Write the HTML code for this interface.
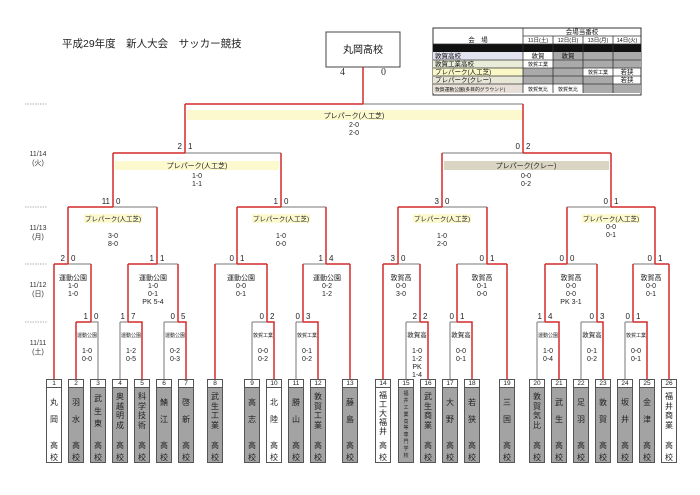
<!DOCTYPE html>
<html><head><meta charset="utf-8"><style>
body{margin:0;background:#fff;}
#w{position:relative;width:700px;height:495px;overflow:hidden;font-family:"Liberation Sans","Noto Sans CJK JP",sans-serif;}
svg{position:absolute;left:0;top:0;}
.t{position:absolute;top:379px;width:14px;height:82px;border:1px solid #555;background:#a3a3a3;font-size:8px;color:#222;}
.t.w{background:#fff;}
.t .n{height:7px;border-bottom:1px solid #555;background:#fff;font-size:6.5px;line-height:7px;text-align:center;}
.t .nm{position:absolute;top:11px;left:0;width:14px;height:40px;display:flex;flex-direction:column;justify-content:space-evenly;align-items:center;line-height:9px;}
.t .k1{position:absolute;left:0;width:14px;text-align:center;top:60px;}
.t .k2{position:absolute;left:0;width:14px;text-align:center;top:72px;}
</style></head><body><div id="w">
<svg width="700" height="495" font-family="Liberation Sans, Noto Sans CJK JP, sans-serif">
<text x="62" y="47" font-size="10.5" fill="#222">平成29年度　新人大会　サッカー競技</text>
<rect x="326" y="32" width="74" height="35" fill="#fff" stroke="#444"/>
<text x="363" y="53" font-size="10" text-anchor="middle" fill="#111">丸岡高校</text>
<text x="340" y="75" font-size="10" font-family="Liberation Serif, serif" fill="#333">4</text>
<text x="381" y="75" font-size="10" font-family="Liberation Serif, serif" fill="#333">0</text>
<!-- legend -->
<g font-size="6.5" fill="#111">
<rect x="433" y="28" width="208" height="67" fill="#fff" stroke="#333"/>
<rect x="433" y="44" width="208" height="8" fill="#111"/>
<rect x="433" y="52" width="90" height="8" fill="#e2e2f0"/>
<rect x="433" y="60" width="90" height="8" fill="#e8ecd8"/>
<rect x="433" y="68" width="90" height="8" fill="#fbf8c8"/>
<rect x="433" y="76" width="90" height="8" fill="#e8e6d6"/>
<rect x="433" y="84" width="90" height="9" fill="#e8e0d8"/>
<rect x="553" y="52" width="88" height="8" fill="#aaa"/>
<rect x="553" y="60" width="88" height="8" fill="#aaa"/>
<rect x="523" y="68" width="60" height="8" fill="#aaa"/>
<rect x="523" y="76" width="90" height="8" fill="#aaa"/>
<rect x="583" y="84" width="58" height="9" fill="#aaa"/>
<g stroke="#333" stroke-width="0.8">
<line x1="523" y1="28" x2="523" y2="93"/><line x1="523" y1="36" x2="641" y2="36"/>
<line x1="433" y1="44" x2="641" y2="44"/>
<line x1="553" y1="36" x2="553" y2="93"/><line x1="583" y1="36" x2="583" y2="93"/><line x1="613" y1="36" x2="613" y2="93"/>
<line x1="433" y1="60" x2="641" y2="60"/><line x1="433" y1="68" x2="641" y2="68"/><line x1="433" y1="76" x2="641" y2="76"/><line x1="433" y1="84" x2="641" y2="84"/>
</g>
<text x="582" y="34" text-anchor="middle">会場当番校</text>
<text x="478" y="42" text-anchor="middle">会　場</text>
<text x="538" y="42" text-anchor="middle" font-size="5.5">11日(土)</text>
<text x="568" y="42" text-anchor="middle" font-size="5.5">12日(日)</text>
<text x="598" y="42" text-anchor="middle" font-size="5.5">13日(月)</text>
<text x="627" y="42" text-anchor="middle" font-size="5.5">14日(火)</text>
<text x="435" y="58">敦賀高校</text><text x="538" y="58" text-anchor="middle">敦賀</text><text x="568" y="58" text-anchor="middle">敦賀</text>
<text x="435" y="66">敦賀工業高校</text><text x="538" y="66" text-anchor="middle" font-size="5">敦賀工業</text>
<text x="435" y="74">プレパーク(人工芝)</text><text x="598" y="74" text-anchor="middle" font-size="5">敦賀工業</text><text x="627" y="74" text-anchor="middle">若狭</text>
<text x="435" y="82">プレパーク(クレー)</text><text x="627" y="82" text-anchor="middle">若狭</text>
<text x="435" y="91" font-size="4.8">敦賀運動公園(多目的グラウンド)</text><text x="538" y="91" text-anchor="middle" font-size="5">敦賀気比</text><text x="568" y="91" text-anchor="middle" font-size="5">敦賀気比</text>
</g>
<!-- dates -->
<g stroke="#999" stroke-dasharray="1.5,1" stroke-width="0.8">
<line x1="25" y1="104" x2="47" y2="104"/><line x1="25" y1="207" x2="47" y2="207"/><line x1="25" y1="264" x2="47" y2="264"/><line x1="25" y1="322" x2="47" y2="322"/>
</g>
<g font-size="7" fill="#333" text-anchor="middle">
<text x="38" y="156">11/14</text><text x="38" y="165">(火)</text>
<text x="38" y="230">11/13</text><text x="38" y="239">(月)</text>
<text x="38" y="287">11/12</text><text x="38" y="296">(日)</text>
<text x="38" y="345">11/11</text><text x="38" y="354">(土)</text>
</g>
<!-- bands -->
<rect x="187" y="110" width="335" height="10" fill="#fcf9cf"/>
<rect x="115" y="161" width="164" height="9" fill="#fcf9cf"/>
<rect x="444" y="161" width="165" height="9" fill="#d9d5c2"/>
<rect x="84" y="214" width="58" height="9" fill="#fcf9cf"/>
<rect x="252" y="214" width="58" height="9" fill="#fcf9cf"/>
<rect x="413" y="214" width="58" height="9" fill="#fcf9cf"/>
<rect x="582" y="214" width="58" height="9" fill="#fcf9cf"/>
<!-- gray lines -->
<path fill="none" stroke="#777" stroke-width="1" d="M363 104H523 M185 153H281 M442 153H523 M113 207H157 M281 207H326 M442 207H487 M567 207H611
M68 264H91 M157 264H178 M215 264H237 M303 264H326 M398 264H420 M457 264H487 M567 264H597 M633 264H655
M91 322H98V379 M120 322H128 M120 322V379 M164 322H178 M164 322V379 M252 322H267 M252 322V379 M296 322H303 M296 322V379
M406 322H420 M406 322V379 M450 322H457 M450 322V379 M537 322H545 M537 322V379 M581 322H597 M581 322V379 M625 322H633 M625 322V379"/>
<!-- red lines -->
<path fill="none" stroke="#d42a2a" stroke-width="1.5" d="M363 67V104 M185 104H363 M185 104V153 M523 104V153
M113 153H185 M113 153V207 M281 153V207 M523 153H611 M442 153V207 M611 153V207
M68 207H113 M68 207V264 M157 207V264 M237 207H281 M237 207V264 M326 207V264 M398 207H442 M398 207V264 M487 207V264 M611 207H655 M567 207V264 M655 207V264
M54 264H68 M54 264V379 M91 264V322 M128 264H157 M128 264V322 M178 264V322 M237 264H267 M215 264V379 M267 264V322 M326 264H350 M303 264V322 M350 264V379
M383 264H398 M383 264V379 M420 264V322 M487 264H507 M457 264V322 M507 264V379 M545 264H567 M545 264V322 M597 264V322 M655 264H669 M633 264V322 M669 264V379
M76 322H91 M76 322V379 M128 322H142V379 M178 322H186V379 M267 322H274V379 M303 322H318V379 M420 322H428V379 M457 322H472V379 M545 322H559V379 M597 322H603V379 M633 322H647V379"/>
<!-- scores -->
<g font-size="8" fill="#222">
<g text-anchor="end">
<text x="182" y="149">2</text><text x="520" y="149">0</text>
<text x="110" y="204">11</text><text x="278" y="204">1</text><text x="439" y="204">3</text><text x="608" y="204">0</text>
<text x="65" y="261">2</text><text x="154" y="261">1</text><text x="234" y="261">0</text><text x="323" y="261">1</text><text x="395" y="261">3</text><text x="484" y="261">0</text><text x="564" y="261">0</text><text x="652" y="261">0</text>
<text x="88" y="319">1</text><text x="125" y="319">1</text><text x="175" y="319">0</text><text x="264" y="319">0</text><text x="300" y="319">0</text><text x="417" y="319">2</text><text x="454" y="319">0</text><text x="542" y="319">1</text><text x="594" y="319">0</text><text x="630" y="319">0</text>
</g>
<g>
<text x="188" y="149">1</text><text x="526" y="149">2</text>
<text x="116" y="204">0</text><text x="284" y="204">0</text><text x="445" y="204">0</text><text x="614" y="204">1</text>
<text x="71" y="261">0</text><text x="160" y="261">1</text><text x="240" y="261">1</text><text x="329" y="261">4</text><text x="401" y="261">0</text><text x="490" y="261">1</text><text x="570" y="261">0</text><text x="658" y="261">1</text>
<text x="94" y="319">0</text><text x="131" y="319">7</text><text x="181" y="319">5</text><text x="270" y="319">2</text><text x="306" y="319">3</text><text x="423" y="319">2</text><text x="460" y="319">1</text><text x="548" y="319">4</text><text x="600" y="319">3</text><text x="636" y="319">1</text>
</g>
</g>
<!-- match labels -->
<g font-size="7" fill="#222" text-anchor="middle">
<text x="354" y="118">プレパーク(人工芝)</text><text x="354" y="127">2-0</text><text x="354" y="135">2-0</text>
<text x="197" y="168">プレパーク(人工芝)</text><text x="197" y="178">1-0</text><text x="197" y="186">1-1</text>
<text x="526" y="168">プレパーク(クレー)</text><text x="526" y="178">0-0</text><text x="526" y="186">0-2</text>
<g font-size="6.5"><text x="113" y="221">プレパーク(人工芝)</text><text x="281" y="221">プレパーク(人工芝)</text><text x="442" y="221">プレパーク(人工芝)</text><text x="611" y="221">プレパーク(人工芝)</text></g>
<text x="113" y="238">3-0</text><text x="113" y="246">8-0</text>
<text x="281" y="238">1-0</text><text x="281" y="246">0-0</text>
<text x="442" y="238">1-0</text><text x="442" y="246">2-0</text>
<text x="611" y="229">0-0</text><text x="611" y="237">0-1</text>
<text x="73" y="280">運動公園</text><text x="73" y="288">1-0</text><text x="73" y="296">1-0</text>
<text x="153" y="280">運動公園</text><text x="153" y="288">1-0</text><text x="153" y="296">0-1</text><text x="153" y="304">PK 5-4</text>
<text x="241" y="280">運動公園</text><text x="241" y="288">0-0</text><text x="241" y="296">0-1</text>
<text x="327" y="280">運動公園</text><text x="327" y="288">0-2</text><text x="327" y="296">1-2</text>
<text x="401" y="280">敦賀高</text><text x="401" y="288">0-0</text><text x="401" y="296">3-0</text>
<text x="482" y="280">敦賀高</text><text x="482" y="288">0-1</text><text x="482" y="296">0-0</text>
<text x="571" y="280">敦賀高</text><text x="571" y="288">0-0</text><text x="571" y="296">0-0</text><text x="571" y="304">PK 3-1</text>
<text x="651" y="280">敦賀高</text><text x="651" y="288">0-0</text><text x="651" y="296">0-1</text>
<g font-size="5"><text x="87" y="337">運動公園</text><text x="131" y="337">運動公園</text><text x="175" y="337">運動公園</text><text x="263" y="337">敦賀工業</text><text x="307" y="337">敦賀工業</text><text x="548" y="337">運動公園</text><text x="636" y="337">敦賀工業</text></g>
<g font-size="6.5"><text x="417" y="337">敦賀高</text><text x="461" y="337">敦賀高</text><text x="592" y="337">敦賀高</text></g>
<text x="87" y="353">1-0</text><text x="87" y="361">0-0</text>
<text x="131" y="353">1-2</text><text x="131" y="361">0-5</text>
<text x="175" y="353">0-2</text><text x="175" y="361">0-3</text>
<text x="263" y="353">0-0</text><text x="263" y="361">0-2</text>
<text x="307" y="353">0-1</text><text x="307" y="361">0-2</text>
<text x="417" y="353">1-0</text><text x="417" y="361">1-2</text><text x="417" y="369">PK</text><text x="417" y="377">1-4</text>
<text x="461" y="353">0-0</text><text x="461" y="361">0-1</text>
<text x="548" y="353">1-0</text><text x="548" y="361">0-4</text>
<text x="592" y="353">0-1</text><text x="592" y="361">0-2</text>
<text x="636" y="353">0-0</text><text x="636" y="361">0-1</text>
</g>
</svg>
<div class="t w" style="left:46px"><div class="n">1</div><div class="nm"><span>丸</span><span>岡</span></div><div class="k1">高</div><div class="k2">校</div></div>
<div class="t" style="left:68px"><div class="n">2</div><div class="nm"><span>羽</span><span>水</span></div><div class="k1">高</div><div class="k2">校</div></div>
<div class="t" style="left:90px"><div class="n">3</div><div class="nm"><span>武</span><span>生</span><span>東</span></div><div class="k1">高</div><div class="k2">校</div></div>
<div class="t" style="left:112px"><div class="n">4</div><div class="nm"><span>奥</span><span>越</span><span>明</span><span>成</span></div><div class="k1">高</div><div class="k2">校</div></div>
<div class="t" style="left:134px"><div class="n">5</div><div class="nm"><span>科</span><span>学</span><span>技</span><span>術</span></div><div class="k1">高</div><div class="k2">校</div></div>
<div class="t" style="left:156px"><div class="n">6</div><div class="nm"><span>鯖</span><span>江</span></div><div class="k1">高</div><div class="k2">校</div></div>
<div class="t" style="left:178px"><div class="n">7</div><div class="nm"><span>啓</span><span>新</span></div><div class="k1">高</div><div class="k2">校</div></div>
<div class="t" style="left:207px"><div class="n">8</div><div class="nm"><span>武</span><span>生</span><span>工</span><span>業</span></div><div class="k1">高</div><div class="k2">校</div></div>
<div class="t" style="left:244px"><div class="n">9</div><div class="nm"><span>高</span><span>志</span></div><div class="k1">高</div><div class="k2">校</div></div>
<div class="t w" style="left:266px"><div class="n">10</div><div class="nm"><span>北</span><span>陸</span></div><div class="k1">高</div><div class="k2">校</div></div>
<div class="t" style="left:288px"><div class="n">11</div><div class="nm"><span>勝</span><span>山</span></div><div class="k1">高</div><div class="k2">校</div></div>
<div class="t" style="left:310px"><div class="n">12</div><div class="nm"><span>敦</span><span>賀</span><span>工</span><span>業</span></div><div class="k1">高</div><div class="k2">校</div></div>
<div class="t" style="left:342px"><div class="n">13</div><div class="nm"><span>藤</span><span>島</span></div><div class="k1">高</div><div class="k2">校</div></div>
<div class="t w" style="left:375px"><div class="n">14</div><div class="nm"><span>福</span><span>工</span><span>大</span><span>福</span><span>井</span></div><div class="k1">高</div><div class="k2">校</div></div>
<div class="t" style="left:398px"><div class="n">15</div><div class="nm" style="top:10px;height:70px;font-size:5px;line-height:6px"><span>福</span><span>井</span><span>工</span><span>業</span><span>高</span><span>等</span><span>専</span><span>門</span><span>学</span><span>校</span></div></div>
<div class="t" style="left:420px"><div class="n">16</div><div class="nm"><span>武</span><span>生</span><span>商</span><span>業</span></div><div class="k1">高</div><div class="k2">校</div></div>
<div class="t" style="left:442px"><div class="n">17</div><div class="nm"><span>大</span><span>野</span></div><div class="k1">高</div><div class="k2">校</div></div>
<div class="t" style="left:464px"><div class="n">18</div><div class="nm"><span>若</span><span>狭</span></div><div class="k1">高</div><div class="k2">校</div></div>
<div class="t" style="left:499px"><div class="n">19</div><div class="nm"><span>三</span><span>国</span></div><div class="k1">高</div><div class="k2">校</div></div>
<div class="t" style="left:529px"><div class="n">20</div><div class="nm"><span>敦</span><span>賀</span><span>気</span><span>比</span></div><div class="k1">高</div><div class="k2">校</div></div>
<div class="t" style="left:551px"><div class="n">21</div><div class="nm"><span>武</span><span>生</span></div><div class="k1">高</div><div class="k2">校</div></div>
<div class="t" style="left:573px"><div class="n">22</div><div class="nm"><span>足</span><span>羽</span></div><div class="k1">高</div><div class="k2">校</div></div>
<div class="t" style="left:595px"><div class="n">23</div><div class="nm"><span>敦</span><span>賀</span></div><div class="k1">高</div><div class="k2">校</div></div>
<div class="t" style="left:617px"><div class="n">24</div><div class="nm"><span>坂</span><span>井</span></div><div class="k1">高</div><div class="k2">校</div></div>
<div class="t" style="left:639px"><div class="n">25</div><div class="nm"><span>金</span><span>津</span></div><div class="k1">高</div><div class="k2">校</div></div>
<div class="t w" style="left:661px"><div class="n">26</div><div class="nm"><span>福</span><span>井</span><span>商</span><span>業</span></div><div class="k1">高</div><div class="k2">校</div></div>
</div></body></html>
